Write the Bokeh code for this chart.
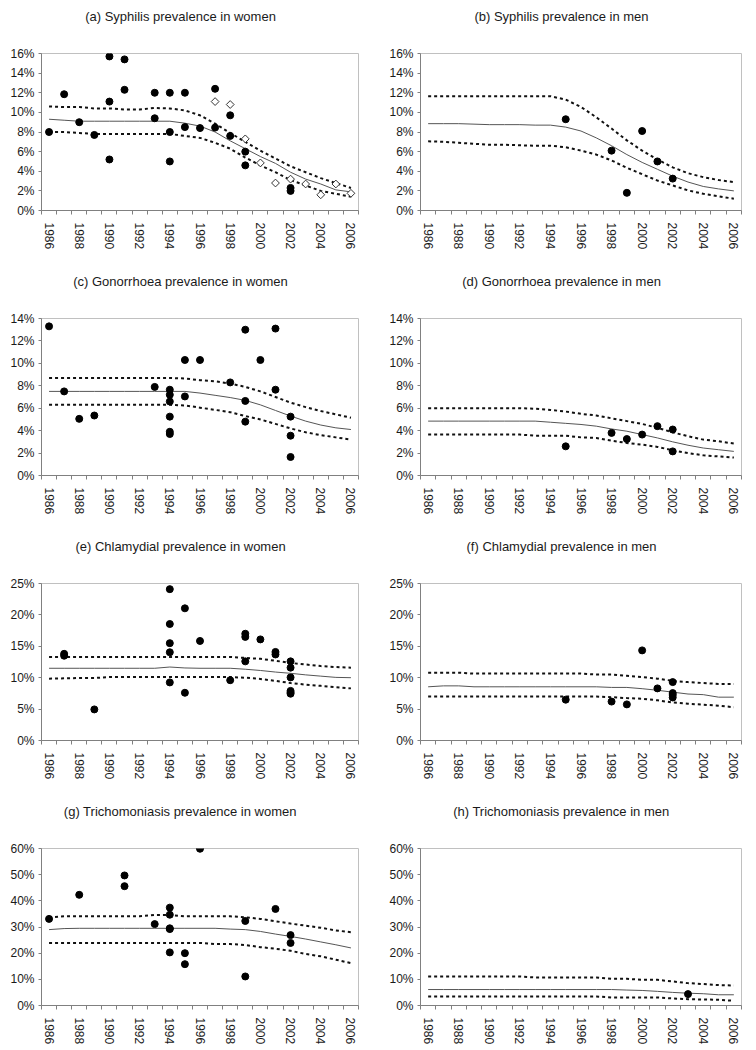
import numpy as np
from bokeh.plotting import figure
from bokeh.layouts import gridplot
from bokeh.models import Range1d, FixedTicker, PrintfTickFormatter, Title
from bokeh.embed import file_html
from bokeh.resources import INLINE

years = [1986, 1987, 1988, 1989, 1990, 1991, 1992, 1993, 1994, 1995, 1996,
         1997, 1998, 1999, 2000, 2001, 2002, 2003, 2004, 2005, 2006]
year_labels = [1986, 1988, 1990, 1992, 1994, 1996, 1998, 2000, 2002, 2004, 2006]

# (a) Syphilis, women
syph_w_mid = [9.3, 9.2, 9.1, 9.1, 9.1, 9.1, 9.1, 9.1, 9.1, 8.9, 8.6, 8.0, 7.1, 6.3, 5.5, 4.8, 3.9, 3.2, 2.7, 2.1, 1.9]
syph_w_hi = [10.6, 10.55, 10.55, 10.4, 10.4, 10.3, 10.3, 10.45, 10.4, 10.2, 9.7, 8.85, 7.9, 7.0, 6.1, 5.3, 4.5, 3.9, 3.3, 2.8, 2.3]
syph_w_lo = [8.0, 8.0, 7.9, 7.8, 7.8, 7.8, 7.8, 7.8, 7.8, 7.6, 7.4, 6.9, 6.3, 5.4, 4.6, 3.9, 3.1, 2.55, 2.0, 1.7, 1.4]
syph_w_x = [1986, 1987, 1988, 1989, 1990, 1990, 1990, 1991, 1991, 1993, 1993, 1994, 1994, 1994,
            1995, 1995, 1996, 1997, 1997, 1998, 1998, 1999, 1999, 2002, 2002]
syph_w_y = [8.0, 11.85, 9.0, 7.7, 15.7, 11.1, 5.2, 15.4, 12.3, 12.0, 9.4, 12.0, 8.0, 5.0,
            12.0, 8.5, 8.4, 12.4, 8.45, 9.7, 7.6, 6.0, 4.6, 2.3, 2.0]
syph_w_dx = [1997, 1998, 1999, 2000, 2001, 2002, 2003, 2004, 2005, 2006]
syph_w_dy = [11.1, 10.8, 7.3, 4.85, 2.8, 3.2, 2.7, 1.6, 2.7, 1.75]

# (b) Syphilis, men
syph_m_mid = [8.85, 8.85, 8.85, 8.8, 8.75, 8.75, 8.75, 8.7, 8.7, 8.5, 8.1, 7.4, 6.6, 5.7, 4.9, 4.2, 3.5, 2.9, 2.45, 2.2, 2.0]
syph_m_hi = [11.65, 11.65, 11.65, 11.65, 11.65, 11.65, 11.65, 11.65, 11.65, 11.3, 10.55, 9.5, 8.35, 7.15, 6.1, 5.2, 4.4, 3.8, 3.4, 3.1, 2.9]
syph_m_lo = [7.05, 7.0, 6.9, 6.8, 6.7, 6.7, 6.65, 6.6, 6.6, 6.45, 6.1, 5.7, 5.1, 4.35, 3.7, 3.05, 2.55, 2.05, 1.7, 1.45, 1.2]
syph_m_x = [1995, 1998, 1999, 2000, 2001, 2002]
syph_m_y = [9.3, 6.1, 1.8, 8.1, 5.0, 3.25]

# (c) Gonorrhoea, women
gon_w_mid = [7.5, 7.5, 7.5, 7.5, 7.5, 7.5, 7.5, 7.5, 7.5, 7.5, 7.35, 7.15, 6.95, 6.7, 6.3, 5.8, 5.3, 4.85, 4.5, 4.25, 4.1]
gon_w_hi = [8.7, 8.7, 8.7, 8.7, 8.7, 8.7, 8.7, 8.7, 8.7, 8.65, 8.5, 8.4, 8.2, 7.9, 7.5, 7.0, 6.5, 6.1, 5.75, 5.45, 5.15]
gon_w_lo = [6.3, 6.3, 6.3, 6.3, 6.3, 6.3, 6.3, 6.3, 6.3, 6.25, 6.05, 5.85, 5.65, 5.3, 5.0, 4.6, 4.2, 3.85, 3.6, 3.4, 3.2]
gon_w_x = [1986, 1987, 1988, 1989, 1993, 1994, 1994, 1994, 1994, 1994, 1994, 1995, 1995, 1996,
           1998, 1999, 1999, 1999, 2000, 2001, 2001, 2002, 2002, 2002]
gon_w_y = [13.3, 7.5, 5.05, 5.35, 7.9, 7.65, 7.2, 6.6, 5.25, 3.9, 3.7, 10.3, 7.05, 10.3,
           8.3, 13.0, 6.65, 4.8, 10.3, 13.1, 7.65, 5.25, 3.55, 1.65]

# (d) Gonorrhoea, men
gon_m_mid = [4.85, 4.85, 4.85, 4.85, 4.85, 4.85, 4.85, 4.85, 4.75, 4.65, 4.55, 4.4, 4.15, 3.95, 3.65, 3.35, 3.0, 2.7, 2.45, 2.3, 2.15]
gon_m_hi = [6.0, 6.0, 6.0, 6.0, 6.0, 6.0, 6.0, 5.95, 5.85, 5.7, 5.5, 5.35, 5.1, 4.85, 4.6, 4.25, 3.85, 3.5, 3.2, 3.05, 2.85]
gon_m_lo = [3.65, 3.65, 3.65, 3.65, 3.65, 3.65, 3.65, 3.55, 3.55, 3.55, 3.4, 3.35, 3.1, 2.9, 2.75, 2.55, 2.25, 2.0, 1.8, 1.7, 1.6]
gon_m_x = [1995, 1998, 1999, 2000, 2001, 2002, 2002]
gon_m_y = [2.6, 3.8, 3.25, 3.65, 4.4, 4.1, 2.15]

# (e) Chlamydia, women
chl_w_mid = [11.5, 11.5, 11.5, 11.5, 11.5, 11.5, 11.5, 11.5, 11.7, 11.55, 11.5, 11.5, 11.5, 11.35, 11.15, 10.9, 10.7, 10.45, 10.25, 10.05, 10.0]
chl_w_hi = [13.3, 13.3, 13.3, 13.3, 13.3, 13.3, 13.3, 13.3, 13.3, 13.3, 13.3, 13.3, 13.3, 13.15, 13.0, 12.7, 12.35, 12.1, 11.85, 11.7, 11.6]
chl_w_lo = [9.85, 9.9, 9.95, 9.95, 10.1, 10.1, 10.1, 10.1, 10.1, 10.1, 10.1, 10.1, 10.1, 10.0, 9.8, 9.5, 9.15, 8.9, 8.7, 8.5, 8.3]
chl_w_x = [1987, 1987, 1989, 1994, 1994, 1994, 1994, 1994, 1995, 1995, 1996, 1998, 1999, 1999,
           1999, 2000, 2001, 2001, 2002, 2002, 2002, 2002, 2002, 2002]
chl_w_y = [13.8, 13.5, 4.95, 24.1, 18.55, 15.5, 14.05, 9.25, 21.05, 7.6, 15.85, 9.6, 17.0, 16.5,
           12.6, 16.1, 14.1, 13.7, 12.6, 11.6, 10.05, 7.9, 7.65, 7.45]

# (f) Chlamydia, men
chl_m_mid = [8.55, 8.7, 8.7, 8.55, 8.55, 8.55, 8.55, 8.55, 8.55, 8.55, 8.55, 8.55, 8.45, 8.45, 8.25, 8.0, 7.7, 7.4, 7.3, 6.9, 6.9]
chl_m_hi = [10.8, 10.8, 10.8, 10.65, 10.65, 10.65, 10.65, 10.65, 10.65, 10.65, 10.65, 10.5, 10.5, 10.3, 10.1, 9.85, 9.5, 9.3, 9.15, 9.0, 9.0]
chl_m_lo = [7.0, 7.0, 7.0, 7.0, 7.0, 7.0, 7.0, 7.0, 7.0, 7.0, 7.0, 7.0, 6.9, 6.75, 6.65, 6.4, 6.05, 5.85, 5.7, 5.55, 5.3]
chl_m_x = [1995, 1998, 1999, 2000, 2001, 2002, 2002, 2002, 2002]
chl_m_y = [6.5, 6.2, 5.75, 14.35, 8.3, 9.3, 7.55, 7.25, 6.85]

# (g) Trichomoniasis, women
tri_w_mid = [29.0, 29.4, 29.5, 29.5, 29.5, 29.5, 29.5, 29.5, 29.5, 29.5, 29.5, 29.5, 29.2, 29.0, 28.3, 27.3, 26.4, 25.4, 24.3, 23.2, 22.0]
tri_w_hi = [33.7, 34.1, 34.1, 34.1, 34.1, 34.1, 34.1, 34.6, 34.6, 34.1, 34.1, 34.1, 34.1, 33.7, 33.1, 32.2, 31.3, 30.5, 29.7, 28.7, 28.0]
tri_w_lo = [23.9, 23.9, 23.9, 23.9, 23.9, 23.9, 23.9, 23.9, 23.9, 23.9, 23.9, 23.5, 23.5, 23.1, 22.3, 21.7, 20.9, 19.7, 18.8, 17.5, 16.2]
tri_w_x = [1986, 1988, 1991, 1991, 1993, 1994, 1994, 1994, 1994, 1994, 1995, 1995, 1996, 1999,
           1999, 2001, 2002, 2002]
tri_w_y = [33.1, 42.3, 49.7, 45.6, 31.1, 37.4, 34.7, 29.5, 29.2, 20.3, 20.0, 15.8, 59.9, 32.3,
           11.1, 36.9, 26.9, 23.9]

# (h) Trichomoniasis, men
tri_m_mid = [6.1, 6.1, 6.1, 6.1, 6.1, 6.1, 6.1, 6.1, 6.1, 6.1, 6.1, 6.1, 6.1, 5.9, 5.75, 5.4, 5.0, 4.7, 4.5, 4.1, 4.1]
tri_m_hi = [11.1, 11.1, 11.1, 11.1, 11.1, 11.1, 11.1, 10.7, 10.7, 10.7, 10.7, 10.7, 10.2, 10.2, 9.8, 9.8, 9.2, 8.55, 8.2, 7.8, 7.65]
tri_m_lo = [3.45, 3.45, 3.45, 3.45, 3.45, 3.45, 3.45, 3.45, 3.45, 3.45, 3.45, 3.45, 3.05, 3.05, 3.05, 3.05, 2.7, 2.4, 2.3, 2.2, 1.8]
tri_m_x = [2003]
tri_m_y = [4.35]

FONT = "Liberation Sans"
AXIS_COLOR = "#808080"
TEXT_COLOR = "#1a1a1a"
FRAME_H = 157
TOP = 53
TITLE_PX = 13

# Arial / Liberation Sans advance widths (per 1000 em) for the title glyphs
ARIAL_W = {' ': 278, '(': 333, ')': 333, 'a': 556, 'b': 556, 'c': 500, 'd': 556, 'e': 556,
           'f': 278, 'g': 556, 'h': 556, 'i': 222, 'l': 222, 'm': 833, 'n': 556, 'o': 556,
           'p': 556, 'r': 333, 's': 500, 't': 278, 'v': 500, 'w': 722, 'y': 500,
           'C': 722, 'G': 778, 'S': 667, 'T': 611}


def text_width(s, px):
    return sum(ARIAL_W.get(ch, 556) for ch in s) * px / 1000.0


def make_panel(title, col, last_row, ymax, ystep, mid, hi, lo, px, py, dx=None, dy=None):
    left = 41 if col == 0 else 42
    right = 20 if col == 0 else 15
    height = 252 if last_row else 265
    bottom = height - TOP - FRAME_H
    width = 378
    fw = width - left - right
    p = figure(width=width, height=height,
               x_range=Range1d(years[0] - 0.5, years[-1] + 0.5),
               y_range=Range1d(0, ymax),
               output_backend="svg", toolbar_location=None,
               min_border_left=left, min_border_right=right,
               min_border_top=TOP, min_border_bottom=bottom)
    p.xgrid.visible = False
    p.ygrid.visible = False
    p.outline_line_color = "#c0c0c0"
    p.outline_line_width = 1
    p.background_fill_color = "white"
    p.border_fill_color = "white"

    # blank spacer (closest to the frame) then the real title above it
    spacer = Title(text=" ", text_font=FONT, text_font_size=f"{TITLE_PX}px", standoff=8,
                   text_color="white")
    p.add_layout(spacer, "above")
    t = Title(text=title, align="left",
              offset=fw / 2 - 19.5 - text_width(title, TITLE_PX) / 2,
              text_font=FONT, text_font_size=f"{TITLE_PX}px", text_font_style="normal",
              text_color=TEXT_COLOR)
    p.add_layout(t, "above")

    xa = p.xaxis[0]
    xa.ticker = FixedTicker(ticks=year_labels,
                            minor_ticks=[y - 0.5 for y in years] + [years[-1] + 0.5])
    xa.major_tick_out = 0
    xa.major_tick_in = 0
    xa.minor_tick_out = 4
    xa.minor_tick_in = 0
    xa.major_label_orientation = "vertical"
    xa.major_label_standoff = 8

    ya = p.yaxis[0]
    ya.ticker = FixedTicker(ticks=list(range(0, ymax + 1, ystep)), minor_ticks=[])
    ya.formatter = PrintfTickFormatter(format="%d%%")
    ya.major_tick_out = 3
    ya.major_tick_in = 0
    ya.minor_tick_out = 0
    ya.minor_tick_in = 0
    ya.major_label_standoff = 4

    for ax in (xa, ya):
        ax.axis_line_color = AXIS_COLOR
        ax.major_tick_line_color = AXIS_COLOR
        ax.minor_tick_line_color = AXIS_COLOR
        ax.major_label_text_font = FONT
        ax.major_label_text_font_size = "12px"
        ax.major_label_text_color = TEXT_COLOR

    p.line(years, mid, line_width=1, line_color="#555555")
    p.line(years, hi, line_width=2, line_color="#111111", line_dash="3 3")
    p.line(years, lo, line_width=2, line_color="#111111", line_dash="3 3")
    p.scatter(px, py, marker="circle", size=7, fill_color="black", line_color="black")
    if dx is not None:
        p.scatter(dx, dy, marker="square", angle=np.pi / 4, size=5.5,
                  fill_color="white", line_color="#333333", line_width=1)
    return p


pa = make_panel("(a) Syphilis prevalence in women", 0, False, 16, 2,
                syph_w_mid, syph_w_hi, syph_w_lo, syph_w_x, syph_w_y, syph_w_dx, syph_w_dy)
pb = make_panel("(b) Syphilis prevalence in men", 1, False, 16, 2,
                syph_m_mid, syph_m_hi, syph_m_lo, syph_m_x, syph_m_y)
pc = make_panel("(c) Gonorrhoea prevalence in women", 0, False, 14, 2,
                gon_w_mid, gon_w_hi, gon_w_lo, gon_w_x, gon_w_y)
pd = make_panel("(d) Gonorrhoea prevalence in men", 1, False, 14, 2,
                gon_m_mid, gon_m_hi, gon_m_lo, gon_m_x, gon_m_y)
pe = make_panel("(e) Chlamydial prevalence in women", 0, False, 25, 5,
                chl_w_mid, chl_w_hi, chl_w_lo, chl_w_x, chl_w_y)
pf = make_panel("(f) Chlamydial prevalence in men", 1, False, 25, 5,
                chl_m_mid, chl_m_hi, chl_m_lo, chl_m_x, chl_m_y)
pg = make_panel("(g) Trichomoniasis prevalence in women", 0, True, 60, 10,
                tri_w_mid, tri_w_hi, tri_w_lo, tri_w_x, tri_w_y)
ph = make_panel("(h) Trichomoniasis prevalence in men", 1, True, 60, 10,
                tri_m_mid, tri_m_hi, tri_m_lo, tri_m_x, tri_m_y)

grid = gridplot([[pa, pb], [pc, pd], [pe, pf], [pg, ph]], toolbar_location=None)

open("out.html", "w").write(file_html(grid, INLINE))
